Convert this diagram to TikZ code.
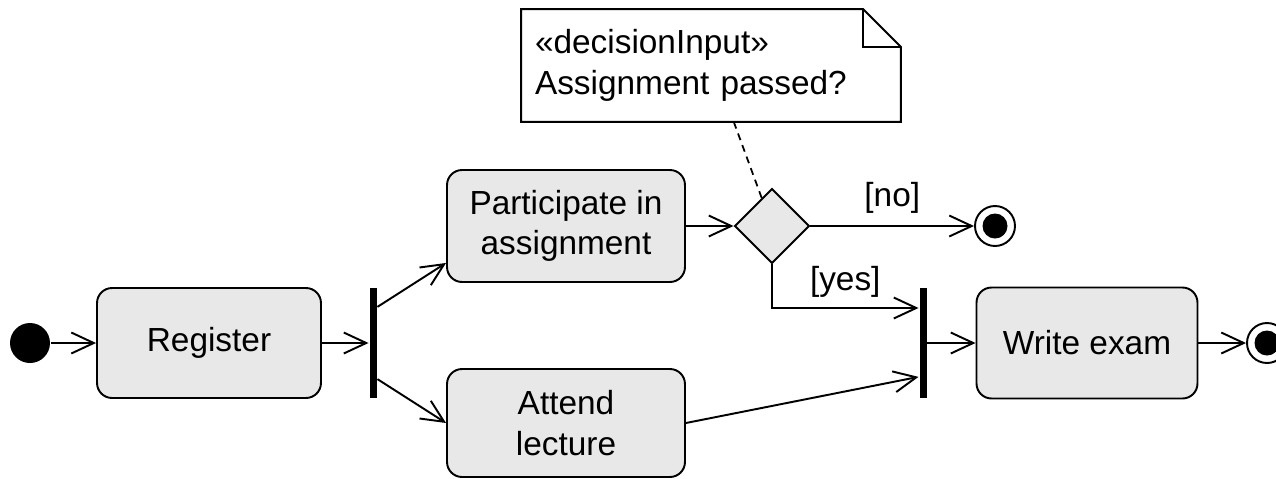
\documentclass[tikz,border=0pt]{standalone}
\definecolor{actgray}{HTML}{E8E8E8}
\usepackage{fontspec}
\setmainfont{Liberation Sans}
\usepackage{tikz}
\usetikzlibrary{arrows.meta}
\usetikzlibrary{shapes.geometric}
\usetikzlibrary{calc}

\begin{document}
\begin{tikzpicture}[x=0.02cm, y=-0.02cm, line width=1.1pt,
	font=\fontsize{19}{23}\selectfont,
	action/.style={draw, fill=actgray, rounded corners=0.3cm, align=center, inner sep=0pt},
	bar/.style={fill=black, minimum width=0.14cm, minimum height=2.22cm, inner sep=0pt},
	decision/.style={diamond, draw, fill=actgray, minimum width=1.5cm, minimum height=1.5cm, inner sep=0pt},
	start/.style={circle, fill=black, minimum size=0.8cm, inner sep=0pt},
	final/.style={circle, draw, fill=white, minimum size=0.8cm, inner sep=0pt,
		path picture={\fill[black] (path picture bounding box.center) circle (0.25cm);}},
	flow/.style={-{Straight Barb[length=0.45cm,width=0.42cm]}}]
	\useasboundingbox (0,0) rectangle (1276,478);
	% nodes
	\node[start] (init) at (30,343) {};
	\node[action, minimum width=4.48cm, minimum height=2.2cm] (reg) at (209,343) {Register};
	\node[bar] (fork) at (373,343) {};
	\node[action, minimum width=4.76cm, minimum height=2.24cm] (part) at (566,226) {Participate in\\assignment};
	\node[action, minimum width=4.76cm, minimum height=2.16cm] (att) at (566,423) {Attend\\lecture};
	\node[decision] (dec) at (772,226) {};
	\node[final] (end1) at (995,226) {};
	\node[bar] (join) at (923,343) {};
	\node[action, minimum width=4.42cm, minimum height=2.22cm] (exam) at (1087,343) {Write exam};
	\node[final] (end2) at (1267,343) {};
	%note
	\node[minimum width=7.56cm, minimum height=2.22cm, inner sep=0pt] (note) at (711,65.5) {};
	\draw[fill=white] (note.north west) -- ([xshift=-0.76cm]note.north east) -- ([yshift=-0.76cm]note.north east)
		-- (note.south east) -- (note.south west) -- cycle;
	\draw ([xshift=-0.76cm]note.north east) |- ([yshift=-0.76cm]note.north east);
	\node[align=left, text width=7.04cm] (notetext) at (note.center) {«decisionInput»\\Assignment passed?};
	\draw[dash pattern=on 4pt off 3pt, line width=1pt] ($(note.south west)!0.56!(note.south east)$) -- (dec);
	% flows
	\draw[flow] (init) -- (reg);
	\draw[flow] (reg) -- (fork);
	\draw[flow] ($(fork.north east)!0.18!(fork.south east)$) -- ([yshift=0.4cm]part.south west);
	\draw[flow] ($(fork.north east)!0.82!(fork.south east)$) -- (att.west);
	\draw[flow] (part) -- (dec);
	\draw[flow] (dec) -- node[above=3pt] {[no]} (end1);
	\draw[flow] (dec.south) |- node[pos=0.75, above=2pt] {[yes]} ($(join.north west)!0.19!(join.south west)$);
	\draw[flow] (att.east) -- ($(join.north west)!0.8!(join.south west)$);
	\draw[flow] (join) -- (exam);
	\draw[flow] (exam) -- (end2);
\end{tikzpicture}
\end{document}
